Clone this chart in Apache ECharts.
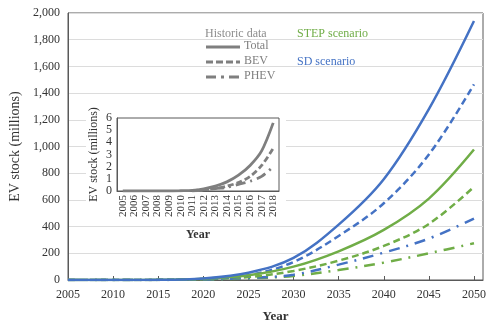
<!DOCTYPE html>
<html>
<head>
<meta charset="utf-8">
<script src="https://cdn.jsdelivr.net/npm/echarts@6/dist/echarts.min.js"></script>
<style>
html,body{margin:0;padding:0;background:#fff;}
#c{width:499px;height:328px;}
</style>
</head>
<body>
<div id="c"></div>
<script>
// Main chart data (millions of EVs)
var years = [2005, 2010, 2015, 2020, 2025, 2030, 2035, 2040, 2045, 2050];
var sdTotal = [0, 0, 1, 12, 55, 165, 415, 755, 1280, 1940];
var sdBEV = [0, 0, 1, 8, 35, 135, 330, 575, 940, 1465];
var sdPHEV = [0, 0, 0.5, 4, 15, 40, 115, 205, 310, 460];
var stepTotal = [0, 0, 1, 9, 35, 100, 215, 375, 610, 977];
var stepBEV = [0, 0, 1, 6, 22, 68, 145, 255, 420, 698];
var stepPHEV = [0, 0, 0.5, 3, 12, 30, 75, 130, 200, 275];

// Inset historic data
var histYears = ['2005','2006','2007','2008','2009','2010','2011','2012','2013','2014','2015','2016','2017','2018'];
var histTotal = [0, 0, 0, 0, 0, 0.02, 0.05, 0.18, 0.4, 0.75, 1.3, 2.1, 3.3, 5.6];
var histBEV = [null, null, null, null, null, null, 0.02, 0.1, 0.2, 0.4, 0.7, 1.2, 2.1, 3.5];
var histPHEV = [null, null, null, null, null, null, 0.01, 0.06, 0.2, 0.3, 0.55, 0.8, 1.2, 2.0];

var BLUE = '#4472c4', GREEN = '#70ad47', GRAY = '#7f7f7f';
var FONT = 'Liberation Serif';

function pairs(xs, ys) { return xs.map(function (x, i) { return [x, ys[i]]; }); }

var dashLine = [7, 4];
var dashDot = [11, 7, 2, 7];

function mainSeries(data, color, type) {
  return {
    type: 'line', xAxisIndex: 0, yAxisIndex: 0,
    data: pairs(years, data), showSymbol: false, smooth: 0.35,
    lineStyle: { color: color, width: 2.5, type: type, cap: 'butt' }, z: 2, silent: true
  };
}
function insetSeries(data, type) {
  return {
    type: 'line', xAxisIndex: 1, yAxisIndex: 1,
    data: data, showSymbol: false, smooth: 0.3, connectNulls: false,
    lineStyle: { color: GRAY, width: 2.8, type: type }, z: 5, silent: true
  };
}

var chart = echarts.init(document.getElementById('c'), null, { renderer: 'canvas' });
chart.setOption({
  animation: false,
  backgroundColor: '#fff',
  textStyle: { fontFamily: FONT },
  grid: [
    { left: 60, right: 16, top: 13, bottom: 43, show: true, borderColor: '#595959', borderWidth: 1, z: 0 },
    { left: 117, top: 118, width: 162, height: 73, show: true, borderColor: '#595959', borderWidth: 1, backgroundColor: '#fff', z: 4 }
  ],
  xAxis: [
    {
      type: 'value', gridIndex: 0, min: 2005, max: 2051, interval: 5,
      name: 'Year', nameLocation: 'middle', nameGap: 30,
      nameTextStyle: { fontFamily: FONT, fontSize: 13, fontWeight: 'bold', color: '#333' },
      axisLine: { lineStyle: { color: '#595959' } },
      axisTick: { inside: true, length: 4, lineStyle: { color: '#595959' } },
      axisLabel: { fontFamily: FONT, fontSize: 12, color: '#333', margin: 9, showMaxLabel: false,
        formatter: function (v) { return v % 5 === 0 ? String(v) : ''; } },
      splitLine: { show: false }
    },
    {
      type: 'category', gridIndex: 1, data: histYears, boundaryGap: true, z: 5,
      name: 'Year', nameLocation: 'middle', nameGap: 38,
      nameTextStyle: { fontFamily: FONT, fontSize: 12, fontWeight: 'bold', color: '#333' },
      axisLine: { lineStyle: { color: '#595959' } },
      axisTick: { inside: true, length: 3, alignWithLabel: true, lineStyle: { color: '#595959' } },
      axisLabel: { rotate: 90, interval: 0, fontFamily: FONT, fontSize: 11, color: '#333', margin: 4 }
    }
  ],
  yAxis: [
    {
      type: 'value', gridIndex: 0, min: 0, max: 2000, interval: 200,
      name: 'EV stock (millions)', nameLocation: 'middle', nameGap: 46, nameRotate: 90,
      nameTextStyle: { fontFamily: FONT, fontSize: 14, color: '#333' },
      axisLine: { show: true, lineStyle: { color: '#595959' } },
      axisTick: { show: false },
      axisLabel: { fontFamily: FONT, fontSize: 12, color: '#333', margin: 8,
        formatter: function (v) { return v.toLocaleString('en-US'); } },
      splitLine: { show: true, lineStyle: { color: '#dcdcdc', width: 1 } }
    },
    {
      type: 'value', gridIndex: 1, min: 0, max: 6, interval: 1, z: 5,
      name: 'EV stock (millions)', nameLocation: 'middle', nameGap: 17, nameRotate: 90,
      nameTextStyle: { fontFamily: FONT, fontSize: 12, color: '#333' },
      axisLine: { show: true, lineStyle: { color: '#595959' } },
      axisTick: { show: false },
      axisLabel: { fontFamily: FONT, fontSize: 12, color: '#333', margin: 5 },
      splitLine: { show: false }
    }
  ],
  graphic: [
    { type: 'rect', z: 1, silent: true, shape: { x: 86, y: 112, width: 200, height: 110 }, style: { fill: '#fff' } },
    // legend
    { type: 'text', z: 6, left: 205, top: 28, style: { text: 'Historic data', fill: '#8c8c8c', font: '12px "Liberation Serif"' } },
    { type: 'line', z: 6, shape: { x1: 206, y1: 47, x2: 240, y2: 47 }, style: { stroke: GRAY, lineWidth: 3 } },
    { type: 'text', z: 6, left: 244, top: 40, style: { text: 'Total', fill: GRAY, font: '12px "Liberation Serif"' } },
    { type: 'line', z: 6, shape: { x1: 206, y1: 62, x2: 240, y2: 62 }, style: { stroke: GRAY, lineWidth: 3, lineDash: [7, 3] } },
    { type: 'text', z: 6, left: 244, top: 55, style: { text: 'BEV', fill: GRAY, font: '12px "Liberation Serif"' } },
    { type: 'line', z: 6, shape: { x1: 206, y1: 77, x2: 240, y2: 77 }, style: { stroke: GRAY, lineWidth: 3, lineDash: [10, 5, 3, 5] } },
    { type: 'text', z: 6, left: 244, top: 70, style: { text: 'PHEV', fill: GRAY, font: '12px "Liberation Serif"' } },
    { type: 'text', z: 6, left: 297, top: 28, style: { text: 'STEP scenario', fill: GREEN, font: '12px "Liberation Serif"' } },
    { type: 'text', z: 6, left: 297, top: 56, style: { text: 'SD scenario', fill: BLUE, font: '12px "Liberation Serif"' } }
  ],
  series: [
    mainSeries(stepPHEV, GREEN, dashDot),
    mainSeries(sdPHEV, BLUE, dashDot),
    mainSeries(stepBEV, GREEN, dashLine),
    mainSeries(sdBEV, BLUE, dashLine),
    mainSeries(stepTotal, GREEN, 'solid'),
    mainSeries(sdTotal, BLUE, 'solid'),
    insetSeries(histPHEV, [10, 5, 2, 5]),
    insetSeries(histBEV, [6, 3]),
    insetSeries(histTotal, 'solid')
  ]
});
</script>
</body>
</html>
